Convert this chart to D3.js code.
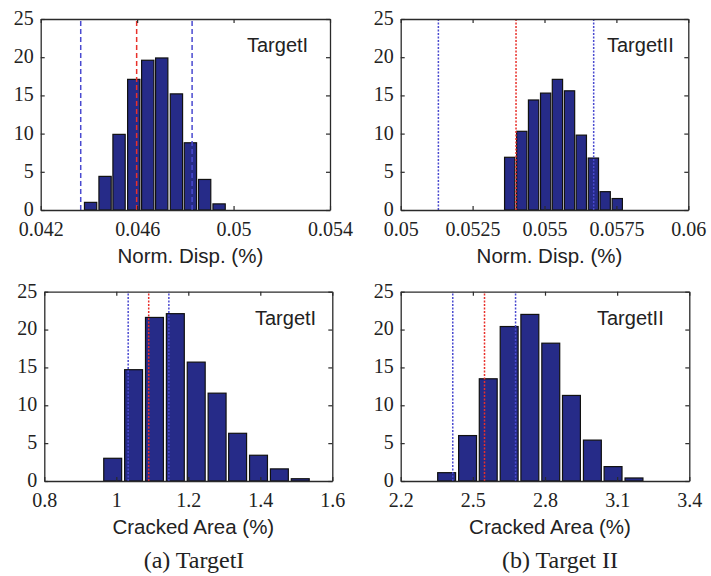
<!DOCTYPE html>
<html>
<head>
<meta charset="utf-8">
<script src="https://cdn.jsdelivr.net/npm/d3@7"></script>
<style>
  html, body { margin: 0; padding: 0; background: #fff; }
  svg { display: block; }
</style>
</head>
<body>
<svg id="chart" width="711" height="576"></svg>
<script>
// Histogram bin centres and counts for each quantity / target
const dispI_centers  = [0.04407, 0.04467, 0.04525, 0.04586, 0.04644, 0.04702, 0.04763, 0.04821, 0.0488, 0.0494];
const dispI_counts   = [1.0, 4.4, 9.9, 17.1, 19.6, 19.9, 15.2, 8.8, 4.0, 0.8];
const dispI_lines    = [0.04366, 0.04598, 0.04828];   // lower bound, mean, upper bound

const dispII_centers = [0.05379, 0.05421, 0.05462, 0.05504, 0.05545, 0.05587, 0.05628, 0.0567, 0.05711, 0.05753];
const dispII_counts  = [6.9, 10.3, 14.4, 15.3, 17.1, 15.6, 9.8, 6.8, 2.4, 1.5];
const dispII_lines   = [0.05131, 0.05401, 0.05671];

const areaI_centers  = [0.99, 1.048, 1.106, 1.164, 1.222, 1.28, 1.337, 1.395, 1.453, 1.511];
const areaI_counts   = [3.0, 14.7, 21.6, 22.1, 15.7, 11.6, 6.3, 3.4, 1.6, 0.3];
const areaI_lines    = [1.033, 1.09, 1.146];

const areaII_centers = [2.391, 2.478, 2.564, 2.651, 2.737, 2.824, 2.91, 2.997, 3.083, 3.17];
const areaII_counts  = [1.1, 6.0, 13.5, 20.4, 22.0, 18.2, 11.3, 5.4, 1.9, 0.4];
const areaII_lines   = [2.4165, 2.5485, 2.6776];

// Axis ticks
const dispI_ticks  = [0.042, 0.046, 0.05, 0.054];
const dispII_ticks = [0.05, 0.0525, 0.055, 0.0575, 0.06];
const areaI_ticks  = [0.8, 1, 1.2, 1.4, 1.6];
const areaII_ticks = [2.2, 2.5, 2.8, 3.1, 3.4];
const yTicks       = [0, 5, 10, 15, 20, 25];

// Text
const xLabels  = ["Norm. Disp. (%)", "Cracked Area (%)"];
const tagNames = ["TargetI", "TargetII"];
const captions = ["(a) TargetI", "(b) Target II"];

const svg = d3.select("#chart");
const serif = "'Liberation Serif', 'Times New Roman', serif";
const sans  = "'Liberation Sans', Arial, sans-serif";

const BAR = "#262b88";
const panels = [
  { centers: dispI_centers,  counts: dispI_counts,  lines: dispI_lines,  ticks: dispI_ticks,
    box: [40.7, 19, 330, 210],    label: xLabels[0], tag: tagNames[0], tagX: 247, dash: "5,3" },
  { centers: dispII_centers, counts: dispII_counts, lines: dispII_lines, ticks: dispII_ticks,
    box: [400.7, 19, 688.3, 210], label: xLabels[0], tag: tagNames[1], tagX: 607, dash: "2,1.5" },
  { centers: areaI_centers,  counts: areaI_counts,  lines: areaI_lines,  ticks: areaI_ticks,
    box: [44.3, 291.7, 332.3, 481], label: xLabels[1], tag: tagNames[0], tagX: 255, dash: "2,1.5" },
  { centers: areaII_centers, counts: areaII_counts, lines: areaII_lines, ticks: areaII_ticks,
    box: [400.7, 291.7, 689.3, 481], label: xLabels[1], tag: tagNames[1], tagX: 597, dash: "2,1.5" }
];

panels.forEach(p => {
  const [x0, y0, x1, y1] = p.box;
  const x = d3.scaleLinear().domain([p.ticks[0], p.ticks[p.ticks.length - 1]]).range([x0, x1]);
  const y = d3.scaleLinear().domain([0, 25]).range([y1, y0]);
  const g = svg.append("g");

  // bars
  const step = (p.centers[p.centers.length - 1] - p.centers[0]) / (p.centers.length - 1);
  const halfW = step * 0.43;
  g.selectAll("rect.bar").data(p.centers).join("rect")
    .attr("class", "bar")
    .attr("x", d => x(d - halfW))
    .attr("width", d => x(d + halfW) - x(d - halfW))
    .attr("y", (d, i) => y(p.counts[i]))
    .attr("height", (d, i) => y(0) - y(p.counts[i]))
    .attr("fill", BAR)
    .attr("stroke", "#111")
    .attr("stroke-width", 1.2);

  // bounds and mean lines
  g.selectAll("line.ref").data(p.lines).join("line")
    .attr("class", "ref")
    .attr("x1", d => x(d)).attr("x2", d => x(d))
    .attr("y1", y(0)).attr("y2", y(25))
    .attr("stroke", (d, i) => i === 1 ? "#e8302a" : "#4a4ad0")
    .attr("stroke-width", 1.5)
    .attr("stroke-dasharray", p.dash);

  // axes with inward ticks
  const bottom = d3.axisBottom(x).tickValues(p.ticks).tickSizeInner(-4).tickSizeOuter(0).tickFormat(d => String(d));
  const top    = d3.axisTop(x).tickValues(p.ticks).tickSizeInner(-4).tickSizeOuter(0).tickFormat("");
  const left   = d3.axisLeft(y).tickValues(yTicks).tickSizeInner(-4).tickSizeOuter(0).tickFormat(d => String(d));
  const right  = d3.axisRight(y).tickValues(yTicks).tickSizeInner(-4).tickSizeOuter(0).tickFormat("");

  const ax = [
    g.append("g").attr("transform", `translate(0,${y1})`).call(bottom),
    g.append("g").attr("transform", `translate(0,${y0})`).call(top),
    g.append("g").attr("transform", `translate(${x0},0)`).call(left),
    g.append("g").attr("transform", `translate(${x1},0)`).call(right)
  ];
  ax.forEach(a => {
    a.select(".domain").attr("stroke", "#2a2a2a").attr("stroke-width", 1.3);
    a.selectAll(".tick line").attr("stroke", "#2a2a2a").attr("stroke-width", 1.2);
    a.selectAll(".tick text").attr("font-family", serif).attr("font-size", 20).attr("fill", "#222");
  });
  ax[0].selectAll(".tick text").attr("y", 12).attr("dy", "0.71em");
  ax[2].selectAll(".tick text").attr("x", -7).attr("dy", "0.27em");

  // x axis title
  g.append("text")
    .attr("x", (x0 + x1) / 2 + 5).attr("y", y1 + 53)
    .attr("text-anchor", "middle")
    .attr("font-family", sans).attr("font-size", 20.5).attr("fill", "#222")
    .text(p.label);

  // target tag
  g.append("text")
    .attr("x", p.tagX).attr("y", y0 + 33)
    .attr("font-family", sans).attr("font-size", 20).attr("fill", "#222")
    .text(p.tag);
});

// sub-figure captions
svg.selectAll("text.caption").data(captions).join("text")
  .attr("class", "caption")
  .attr("x", (d, i) => i === 0 ? 194 : 560)
  .attr("y", 568)
  .attr("text-anchor", "middle")
  .attr("font-family", serif).attr("font-size", 24).attr("fill", "#222")
  .text(d => d);
</script>
</body>
</html>
